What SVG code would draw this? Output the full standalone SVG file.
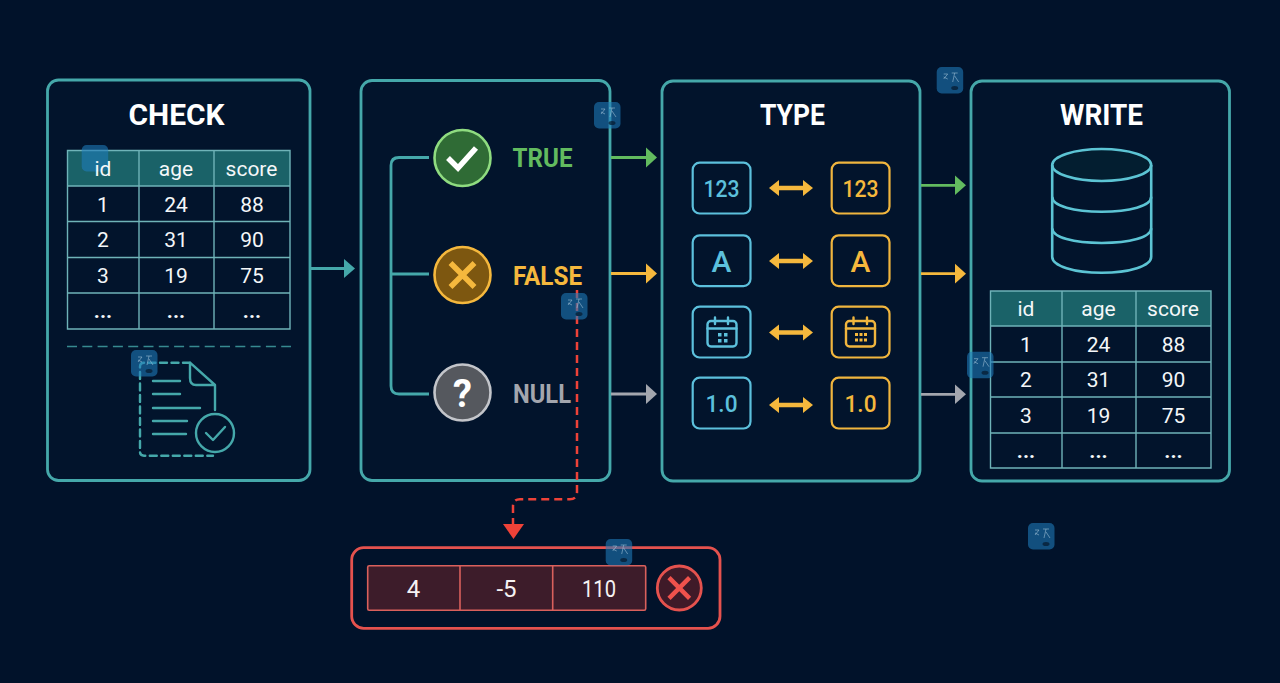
<svg xmlns="http://www.w3.org/2000/svg" width="1280" height="683" viewBox="0 0 1280 683">
<style>
text{font-family:Roboto,"Liberation Sans",sans-serif;text-anchor:middle}
.panel{fill:#02142c;stroke:#45a8aa;stroke-width:2.8}
.title{fill:#fff;font-size:30px;font-weight:700}
.hdr{fill:#1a6268}
.grid{fill:none;stroke:#6fb3b8;stroke-width:1.4}
.cell{fill:#f4f7f9;font-size:21px}
.dots{font-weight:700}
.doc{fill:none;stroke:#45a8aa;stroke-width:2.4;stroke-linecap:round;stroke-linejoin:round}
.conn{fill:none;stroke-width:2.8}
.teal{stroke:#45a8aa}.green{stroke:#62bb5f}.yellow{stroke:#f5b83d}.gray{stroke:#a3a6ae}
.ftl{fill:#45a8aa}.fgr{fill:#62bb5f}.fye{fill:#f5b83d}.fgy{fill:#a3a6ae}.fre{fill:#ee4238}
.lab{font-size:26px;font-weight:700}
.bl{fill:none;stroke:#5cc0dc;stroke-width:2.2}
.ye{fill:none;stroke:#f0b53e;stroke-width:2.2}
.tbl{fill:#5cc0dc;font-size:24px;font-weight:500}
.tye{fill:#f5b83d;font-size:24px;font-weight:500}
.red{fill:none;stroke:#e5524e;stroke-width:2.8}
.rcell{fill:#3d1c2a;stroke:#d9605c;stroke-width:1.6}
.rt{fill:#f6f2f3;font-size:24px}
.badge rect{fill:#1f7cbc;opacity:.58}
.badge path{fill:none;stroke:#9fc0d6;stroke-width:.9;opacity:.65}
.badge ellipse{fill:#06182c;opacity:.7}
</style>
<defs>
<g id="bdg" class="badge"><rect width="26.5" height="26.5" rx="5"/><path d="M7 7h4l-4 5M7 10l4 2M15 6h6M18 6l-2 9M18 9l4 6"/><ellipse cx="18" cy="21" rx="3.500" ry="2"/></g>
<path id="dbl" d="M-22 0l10-8v5.800h24v-5.800l10 8-10 8v-5.800h-24v5.800z" class="fye"/>
</defs>
<rect width="1280" height="683" fill="#01122a"/>

<g id="check">
<rect class="panel" x="47.500" y="80" width="262.500" height="400.500" rx="11"/>
<text class="title" x="176.500" y="125" textLength="96" lengthAdjust="spacingAndGlyphs">CHECK</text>
<rect class="hdr" x="67.500" y="150.500" width="222.500" height="35.500"/>
<path class="grid" d="M67.500 150.500H290V329H67.500ZM139 150.500V329M214 150.500V329M67.500 186H290M67.500 221.500H290M67.500 257.500H290M67.500 293H290"/>
<g class="badge"><rect x="81.700" y="145" width="26.500" height="26.500" rx="5"/></g>
<g class="cell">
<text x="103" y="176">id</text><text x="176" y="176">age</text><text x="251.500" y="176">score</text>
<text x="103" y="211.500">1</text><text x="176" y="211.500">24</text><text x="252" y="211.500">88</text>
<text x="103" y="247">2</text><text x="176" y="247">31</text><text x="252" y="247">90</text>
<text x="103" y="283">3</text><text x="176" y="283">19</text><text x="252" y="283">75</text>
<text class="dots" x="103" y="318">...</text><text class="dots" x="176" y="318">...</text><text class="dots" x="252" y="318">...</text>
</g>
<path d="M67 346.500H291" stroke="#45a8aa" stroke-width="1.500" stroke-dasharray="10 5.300" fill="none" opacity=".8"/>
<g class="doc">
<path stroke-dasharray="7 4.500" d="M190 362.700H144q-4 0-4 4V452q0 3.700 4 3.700H213"/>
<path d="M190 362.700V378q0 7 6 7H215ZM215 385V410"/>
<path d="M153 381H180M153 394H180M153 408H200M153 421H187M153 434H186"/>
<circle cx="215" cy="433" r="19"/>
<path d="M206 433l7 7 12-13"/>
</g>
</g>

<g id="branch">
<rect class="panel" x="361" y="80.500" width="249" height="400" rx="11"/>
<g id="true-node">
<circle cx="462.500" cy="158" r="28" fill="#2f6b35" stroke="#8fdc80" stroke-width="2.600"/>
<path d="M448 158l10 10 18-20" fill="none" stroke="#fff" stroke-width="5.500"/>
<text class="lab fgr" x="542.500" y="166.700" textLength="60" lengthAdjust="spacingAndGlyphs">TRUE</text>
</g>
<g id="false-node">
<circle cx="462.500" cy="275" r="28" fill="#7d5710" stroke="#f5b83d" stroke-width="2.600"/>
<path d="M450.500 263l24 24M474.500 263l-24 24" fill="none" stroke="#f5b83d" stroke-width="5.500"/>
<text class="lab fye" x="547.500" y="285" textLength="69" lengthAdjust="spacingAndGlyphs">FALSE</text>
</g>
<g id="null-node">
<circle cx="462.500" cy="392.500" r="28" fill="#55585e" stroke="#c3c5ca" stroke-width="2.600"/>
<text x="462.500" y="407" fill="#fff" font-size="38" font-weight="700">?</text>
<text class="lab fgy" x="542" y="403" textLength="58" lengthAdjust="spacingAndGlyphs">NULL</text>
</g>
</g>

<g id="type">
<rect class="panel" x="662" y="81" width="258" height="400" rx="11"/>
<text class="title" x="792.500" y="125" textLength="65" lengthAdjust="spacingAndGlyphs">TYPE</text>
<g class="bl">
<rect x="692.700" y="162.700" width="57.800" height="50.800" rx="7"/>
<rect x="692.700" y="235.300" width="57.800" height="50.800" rx="7"/>
<rect x="692.700" y="306.700" width="57.800" height="50.800" rx="7"/>
<rect x="692.700" y="377.700" width="57.800" height="50.800" rx="7"/>
</g>
<g class="ye">
<rect x="831.700" y="162.700" width="57.800" height="50.800" rx="7"/>
<rect x="831.700" y="235.300" width="57.800" height="50.800" rx="7"/>
<rect x="831.700" y="306.700" width="57.800" height="50.800" rx="7"/>
<rect x="831.700" y="377.700" width="57.800" height="50.800" rx="7"/>
</g>
<text class="tbl" x="721.500" y="196.500" textLength="36" lengthAdjust="spacingAndGlyphs">123</text><text class="tye" x="860.500" y="196.500" textLength="36" lengthAdjust="spacingAndGlyphs">123</text>
<text class="tbl" x="721.500" y="272" style="font-size:30px">A</text><text class="tye" x="860.500" y="272" style="font-size:30px">A</text>
<text class="tbl" x="721.500" y="412" textLength="32" lengthAdjust="spacingAndGlyphs">1.0</text><text class="tye" x="860.500" y="412" textLength="32" lengthAdjust="spacingAndGlyphs">1.0</text>
<g class="bl" stroke-linecap="round">
<rect x="707.500" y="321" width="29" height="25.500" rx="3.500" style="stroke-width:2.400"/>
<path d="M707.500 328.500H736.500M715 317.500V324M728 317.500V324" style="stroke-width:2.400"/>
</g>
<g fill="#5cc0dc"><rect x="718" y="333" width="3.500" height="3.500"/><rect x="724" y="333" width="3.500" height="3.500"/><rect x="718" y="339" width="3.500" height="3.500"/><rect x="724" y="339" width="3.500" height="3.500"/></g>
<g class="ye" stroke-linecap="round">
<rect x="846" y="321" width="29" height="25.500" rx="3.500" style="stroke-width:2.400"/>
<path d="M846 328.500H875M853.500 317.500V324M867 317.500V324" style="stroke-width:2.400"/>
</g>
<g fill="#f5b83d"><rect x="855" y="333" width="3" height="3"/><rect x="859.500" y="333" width="3" height="3"/><rect x="864" y="333" width="3" height="3"/><rect x="855" y="338.500" width="3" height="3"/><rect x="859.500" y="338.500" width="3" height="3"/><rect x="864" y="338.500" width="3" height="3"/></g>
<use href="#dbl" x="791" y="188"/>
<use href="#dbl" x="791" y="261"/>
<use href="#dbl" x="791" y="332.500"/>
<use href="#dbl" x="791" y="405"/>
</g>

<g id="write">
<rect class="panel" x="971" y="81" width="258.500" height="400" rx="11"/>
<text class="title" x="1101.500" y="125" textLength="83" lengthAdjust="spacingAndGlyphs">WRITE</text>
<g fill="none" stroke="#5cc4d4" stroke-width="2.600">
<ellipse cx="1101.700" cy="165" rx="49.500" ry="16" fill="#031e30"/>
<path d="M1052.200 165V256.700C1052.200 266 1074 272.700 1101.700 272.700S1151.200 266 1151.200 256.700V165"/>
<path d="M1052.200 196.700C1052.200 206 1074 211.700 1101.700 211.700S1151.200 206 1151.200 196.700"/>
<path d="M1052.200 228.300C1052.200 237.500 1074 243 1101.700 243S1151.200 237.500 1151.200 228.300"/>
</g>
<rect class="hdr" x="990.500" y="291" width="220.500" height="35"/>
<path class="grid" d="M990.500 291H1211V468H990.500ZM1062 291V468M1136 291V468M990.500 326H1211M990.500 362H1211M990.500 397H1211M990.500 433H1211"/>
<g class="cell">
<text x="1026" y="316">id</text><text x="1098.500" y="316">age</text><text x="1173" y="316">score</text>
<text x="1026" y="351.500">1</text><text x="1098.500" y="351.500">24</text><text x="1173.500" y="351.500">88</text>
<text x="1026" y="387">2</text><text x="1098.500" y="387">31</text><text x="1173.500" y="387">90</text>
<text x="1026" y="423">3</text><text x="1098.500" y="423">19</text><text x="1173.500" y="423">75</text>
<text class="dots" x="1026" y="458">...</text><text class="dots" x="1098.500" y="458">...</text><text class="dots" x="1173.500" y="458">...</text>
</g>
</g>

<g id="rejected">
<rect class="red" x="351.700" y="547.700" width="368.300" height="80.600" rx="12"/>
<rect class="rcell" x="367.700" y="565.700" width="278" height="44.600" rx="1.500"/>
<path d="M460 565.700V610.300M552.700 565.700V610.300" stroke="#d9605c" stroke-width="1.600" fill="none"/>
<text class="rt" x="413.500" y="596.700">4</text>
<text class="rt" x="506.500" y="596.700">-5</text>
<text class="rt" x="599" y="596.700" textLength="34" lengthAdjust="spacingAndGlyphs">110</text>
<circle cx="679.300" cy="588" r="22" fill="#3f1a28" stroke="#e5524e" stroke-width="2.800"/>
<path d="M669 577.700l20.600 20.600M689.600 577.700l-20.600 20.600" stroke="#f0524c" stroke-width="4.500" fill="none"/>
</g>

<g id="connectors">
<path class="conn teal" d="M310 268.500H345"/><path class="ftl" d="M344 259l11 9.500-11 9.500z"/>
<path class="conn teal" d="M429 157.500H399q-8 0-8 8V386q0 8 8 8H429M391 274H429"/>
<path class="conn green" d="M611 157.500H647"/><path class="fgr" d="M646 147.500l11 10-11 10z"/>
<path class="conn yellow" d="M611 273.500H647"/><path class="fye" d="M646 263.500l11 10-11 10z"/>
<path class="conn gray" d="M611 394H647"/><path class="fgy" d="M646 384l11 10-11 10z"/>
<path class="conn green" d="M921 185.300H956"/><path class="fgr" d="M955 175.500l11 9.800-11 9.800z"/>
<path class="conn yellow" d="M921 273.700H956"/><path class="fye" d="M955 263.800l11 9.900-11 9.900z"/>
<path class="conn gray" d="M921 394.300H956"/><path class="fgy" d="M955 384.500l11 9.800-11 9.800z"/>
<path fill="none" stroke="#ee4238" stroke-width="2.500" stroke-dasharray="8 5" d="M577 290V492q0 7.300-7.300 7.300H520q-7 0-7 7V525"/>
<path class="fre" d="M503 524h21l-10.500 15z"/>
</g>

<g id="watermarks">
<use href="#bdg" x="131" y="350"/>
<use href="#bdg" x="594" y="102"/>
<use href="#bdg" x="561" y="293"/>
<use href="#bdg" x="936.700" y="67"/>
<use href="#bdg" x="967" y="351.700"/>
<use href="#bdg" x="605.700" y="539"/>
<use href="#bdg" x="1028" y="523"/>
</g>
</svg>
